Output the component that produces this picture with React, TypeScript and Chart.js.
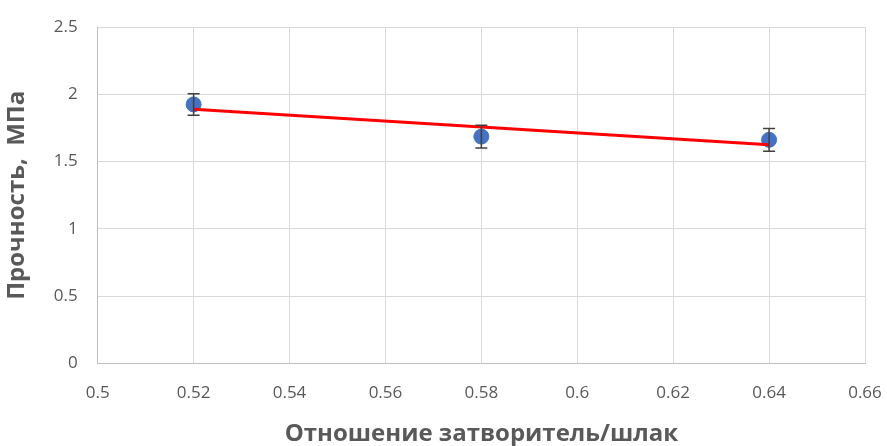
import React, { useEffect, useRef } from "react";
import { Chart, registerables } from "chart.js";

Chart.register(...registerables);

const ratios = [0.52, 0.58, 0.64];
const strength = [1.925, 1.686, 1.662];
const errors = [0.08, 0.085, 0.085];
const trendX = [0.52, 0.64];
const trendY = [1.889, 1.626];
const xTicks = [0.5, 0.52, 0.54, 0.56, 0.58, 0.6, 0.62, 0.64, 0.66];
const yTicks = [0, 0.5, 1, 1.5, 2, 2.5];

const errorBarPlugin = {
  id: "errorBars",
  afterDatasetsDraw(chart: any) {
    const ctx = chart.ctx;
    const ys = chart.scales.y;
    const xs = chart.scales.x;
    ctx.save();
    ctx.strokeStyle = "#404040";
    ctx.lineWidth = 1.5;
    ratios.forEach((r, i) => {
      const x = xs.getPixelForValue(r);
      const yTop = ys.getPixelForValue(strength[i] + errors[i]);
      const yBot = ys.getPixelForValue(strength[i] - errors[i]);
      ctx.beginPath();
      ctx.moveTo(x, yTop);
      ctx.lineTo(x, yBot);
      ctx.moveTo(x - 6, yTop);
      ctx.lineTo(x + 6, yTop);
      ctx.moveTo(x - 6, yBot);
      ctx.lineTo(x + 6, yBot);
      ctx.stroke();
    });
    ctx.restore();
  },
};

export default function App() {
  const ref = useRef<HTMLCanvasElement>(null);
  useEffect(() => {
    document.body.style.margin = "0";
    const chart = new Chart(ref.current!, {
      type: "scatter",
      data: {
        datasets: [
          {
            type: "line",
            data: trendX.map((x, i) => ({ x, y: trendY[i] })),
            borderColor: "#FF0000",
            borderWidth: 3,
            pointRadius: 0,
            fill: false,
            order: 1,
          } as any,
          {
            data: ratios.map((x, i) => ({ x, y: strength[i] })),
            backgroundColor: "#4472C4",
            borderColor: "#4472C4",
            pointRadius: 7.5,
            order: 2,
          },
        ],
      },
      options: {
        animation: false,
        responsive: false,
        layout: { padding: { left: 3, right: 0, top: 27, bottom: 0 } },
        plugins: { legend: { display: false }, tooltip: { enabled: false } },
        scales: {
          x: {
            type: "linear",
            min: 0.5,
            max: 0.66,
            afterBuildTicks: (axis: any) => {
              axis.ticks = xTicks.map((v) => ({ value: v }));
            },
            afterFit: (axis: any) => {
              axis.paddingRight = 22;
            },
            grid: { color: "#d9d9d9", drawTicks: false },
            border: { color: "#bfbfbf" },
            ticks: {
              color: "#595959",
              font: { family: "Open Sans", size: 17 },
              padding: 19,
              maxRotation: 0,
              callback: (v: any) => String(Math.round(Number(v) * 100) / 100),
            },
            title: {
              display: true,
              text: "Отношение затворитель/шлак",
              color: "#595959",
              font: { family: "Open Sans", size: 24, weight: "bold", lineHeight: 1.0 },
              padding: { top: 0, bottom: 0 },
            },
          },
          y: {
            type: "linear",
            min: 0,
            max: 2.5,
            afterBuildTicks: (axis: any) => {
              axis.ticks = yTicks.map((v) => ({ value: v }));
            },
            afterFit: (axis: any) => {
              axis.paddingTop = 0;
            },
            grid: { color: "#d9d9d9", drawTicks: false },
            border: { color: "#bfbfbf" },
            ticks: {
              color: "#595959",
              font: { family: "Open Sans", size: 17 },
              padding: 20,
              callback: (v: any) => String(v),
            },
            title: {
              display: true,
              text: "Прочность,  МПа",
              color: "#595959",
              font: { family: "Open Sans", size: 24, weight: "bold" },
              padding: { top: 0, bottom: 2 },
            },
          },
        },
      },
      plugins: [errorBarPlugin],
    });
    return () => chart.destroy();
  }, []);
  return (
    <div style={{ width: 887, height: 446 }}>
      <canvas ref={ref} width={887} height={446} style={{ display: "block" }} />
    </div>
  );
}
